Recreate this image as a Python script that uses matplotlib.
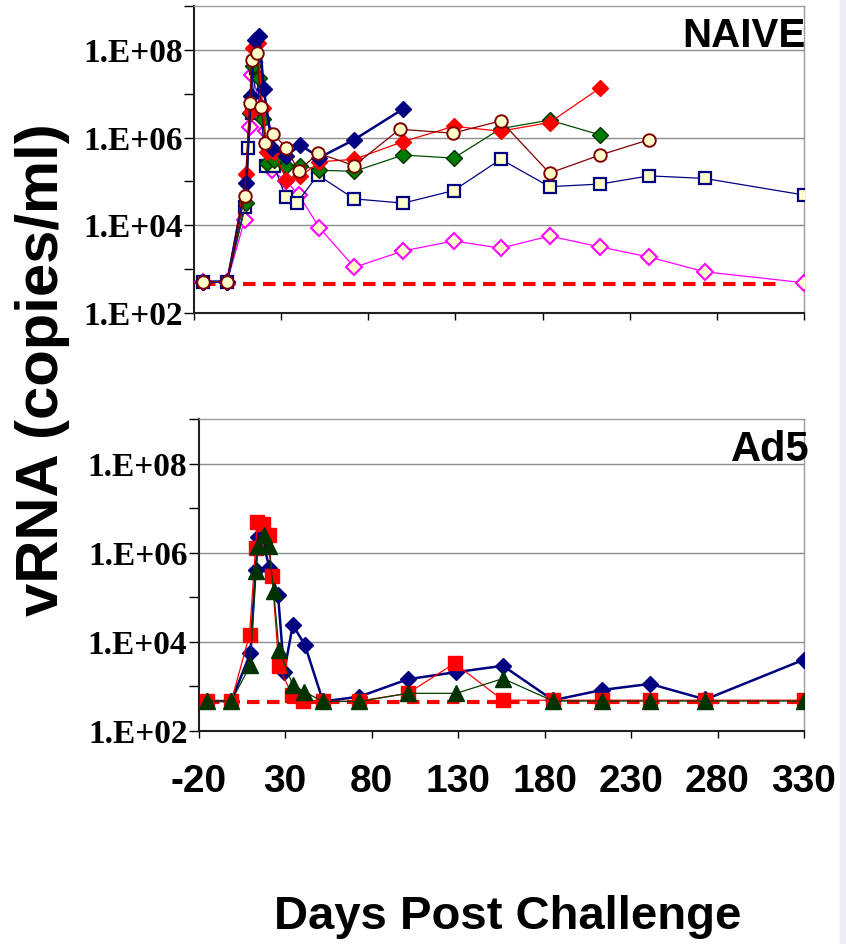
"""vRNA after challenge: naive vs Ad5 panels, log-scale viral loads."""
import math
import matplotlib
matplotlib.use("Agg")
import matplotlib.pyplot as plt
from matplotlib import font_manager as fm
from matplotlib.patches import Rectangle
from matplotlib.ticker import FixedLocator, FuncFormatter

# ---- data (days post challenge, copies/ml) ----
DL_VAL = 460
DL_TOP_DAYS = [-15, 317]
DL_BOT_DAYS = [-15, 330]

# NAIVE panel
NAV_T_DAYS = [-15, -1, 10, 12.5, 15, 17.5, 20, 25, 33, 41, 52, 72, 100]
NAV_T_VALS = [520, 520, 9e4, 9e6, 1.7e8, 2.1e8, 1.3e7, 5.8e5, 3.8e5, 6.8e5, 3.5e5, 9e5, 4.5e6]
RED_T_DAYS = [-15, -1, 10, 12.5, 14, 16.5, 19.5, 22, 26, 33, 41, 52, 72, 100, 129, 156, 184, 213]
RED_T_VALS = [520, 520, 1.5e5, 3.9e6, 1.1e8, 1.4e8, 4.7e6, 4.8e5, 4.8e5, 1.07e5, 1.3e5,
              2.8e5, 3.2e5, 8.1e5, 1.8e6, 1.4e6, 2.2e6, 1.35e7]
GRN_T_DAYS = [-15, -1, 10, 12, 14, 17.5, 19.5, 22, 26, 33, 41, 52, 72, 100, 129, 156, 184, 213]
GRN_T_VALS = [520, 520, 3.3e4, 3.6e6, 4.2e7, 2.3e7, 2.6e6, 2.6e5, 3.1e5, 2.2e5, 2.3e5,
              1.8e5, 1.7e5, 4e5, 3.4e5, 1.6e6, 2.5e6, 1.15e6]
CIR_T_DAYS = [-15, -1, 9, 12, 13, 16, 18.5, 21, 25.5, 33, 40, 51, 72, 98, 128.5, 156, 184, 213, 241]
CIR_T_VALS = [520, 520, 4.7e4, 6e6, 5.9e7, 8.5e7, 5e6, 7.7e5, 1.2e6, 5.8e5, 1.7e5, 4.4e5,
              2.3e5, 1.55e6, 1.26e6, 2.4e6, 1.55e5, 4e5, 8.9e5]
SQR_T_DAYS = [-15, -1, 9, 11, 13, 15.5, 21.5, 26, 32.5, 39, 51, 72, 100, 129, 156, 184, 213,
              241, 273, 330]
SQR_T_VALS = [520, 520, 2.6e4, 5.8e5, 3.6e6, 3.8e7, 2.2e5, 2.3e5, 4.4e4, 3.2e4, 1.4e5, 4e4,
              3.2e4, 6.2e4, 3.2e5, 7.6e4, 8.7e4, 1.34e5, 1.17e5, 4.9e4]
MAG_T_DAYS = [-15, -1, 9, 12, 13.5, 21.5, 24.5, 33, 40, 52, 72, 100, 129, 156, 184, 213, 241,
              273, 330]
MAG_T_VALS = [520, 520, 1.3e4, 1.7e6, 2.7e7, 1.4e6, 1.8e5, 1e5, 5e4, 8.8e3, 1.1e3, 2.6e3,
              4.4e3, 3e3, 5.7e3, 3.2e3, 1.9e3, 870, 490]

# Ad5 panel
NAV_B_DAYS = [-15, -1, 10, 13, 14.5, 17.5, 21, 26, 29.5, 34.5, 41.5, 52, 73, 101, 129, 156,
              185, 213, 241, 273, 330]
NAV_B_VALS = [470, 470, 5.6e3, 4e5, 2.2e6, 1.6e6, 4.6e5, 1.1e5, 2.1e3, 2.4e4, 8.5e3, 460,
              590, 1.45e3, 2.1e3, 2.9e3, 490, 830, 1.14e3, 510, 4e3]
RED_B_DAYS = [-15, -1, 9.5, 13, 14, 17.5, 20.5, 22.5, 26.5, 34, 40.5, 52, 73, 101, 128, 156,
              185, 213, 241, 273, 330]
RED_B_VALS = [470, 470, 1.45e4, 1.3e6, 4.8e6, 4.5e6, 2.5e6, 3e5, 2.8e3, 650, 460, 460, 470,
              700, 3.3e3, 490, 490, 490, 490, 490, 490]
GRN_B_DAYS = [-15, -1, 10, 13, 14.5, 18, 20.5, 23.5, 26.5, 34.5, 41, 52, 73, 101, 129, 156,
              185, 213, 241, 273, 330]
GRN_B_VALS = [470, 470, 3e3, 3.8e5, 1.4e6, 2.5e6, 1.4e6, 1.35e5, 6.6e3, 1.08e3, 760, 460,
              460, 700, 700, 1.5e3, 470, 470, 470, 470, 470]

X_TICKS = [-20, 30, 80, 130, 180, 230, 280, 330]
Y_DECADES = [1e2, 1e3, 1e4, 1e5, 1e6, 1e7, 1e8, 1e9]
GRID_Y = [1e4, 1e6, 1e8]

names = {f.name for f in fm.fontManager.ttflist}
NARROW = "Liberation Sans Narrow" if "Liberation Sans Narrow" in names else None
SANS = "Liberation Sans"
SERIF = "Liberation Serif"

W, H = 846, 944
fig = plt.figure(figsize=(W / 100, H / 100), dpi=100)
fig.patches.append(Rectangle((840 / W, 0), 6 / W, 1, transform=fig.transFigure,
                             color="#e9eef6", zorder=0))

ax_t = fig.add_axes([194 / W, 1 - 313 / H, (804 - 194) / W, (313 - 6) / H])
ax_b = fig.add_axes([198.5 / W, 1 - 731 / H, (804 - 198.5) / W, (731 - 419) / H])

YELLOW = "#ffffcc"


def ylab(v, pos):
    e = int(round(math.log10(v)))
    return f"1.E+{e:02d}" if e % 2 == 0 else ""


for ax in (ax_t, ax_b):
    ax.set_yscale("log")
    ax.set_ylim(1e2, 1e9)
    ax.set_xlim(-20, 330)
    ax.yaxis.set_major_locator(FixedLocator(Y_DECADES))
    ax.yaxis.set_minor_locator(FixedLocator([]))
    ax.yaxis.set_major_formatter(FuncFormatter(ylab))
    ax.set_xticks(X_TICKS)
    for g in GRID_Y:
        ax.axhline(g, color="#8c8c8c", lw=1.0, zorder=1)
    for s in ("top", "right"):
        ax.spines[s].set_color("#9a9a9a")
        ax.spines[s].set_linewidth(1.0)
    for s in ("left", "bottom"):
        ax.spines[s].set_color("#202020")
        ax.spines[s].set_linewidth(1.5)
    ax.tick_params(axis="y", direction="out", length=7, width=1, pad=1)
    ax.tick_params(axis="x", direction="out", length=5, width=1, pad=19)
    for lab in ax.get_yticklabels():
        lab.set_fontfamily(SERIF)
        lab.set_fontweight("bold")
        lab.set_fontsize(24)

ax_t.set_xticklabels([])
if NARROW:
    ax_b.set_xticklabels([str(t) for t in X_TICKS], fontfamily=NARROW, fontweight="bold",
                         fontsize=33)
else:
    ax_b.set_xticklabels([str(t) for t in X_TICKS], fontfamily=SANS, fontweight="bold",
                         fontsize=28)

# detection limit
ax_t.plot(DL_TOP_DAYS, [DL_VAL, DL_VAL], color="#ff0000", lw=3, dashes=(3, 1.8), zorder=2)
ax_b.plot(DL_BOT_DAYS, [DL_VAL - 15, DL_VAL - 15], color="#ff0000", lw=3, dashes=(3, 1.8),
          zorder=2)

# NAIVE series
ax_t.plot(MAG_T_DAYS, MAG_T_VALS, color="#ff00ff", lw=0.9, marker="D", ms=8.6,
          mfc=YELLOW, mec="#ff00ff", mew=1.5, zorder=3)
ax_t.plot(SQR_T_DAYS, SQR_T_VALS, color="#000080", lw=0.9, marker="s", ms=9,
          mfc=YELLOW, mec="#000080", mew=1.6, zorder=4)
ax_t.plot(GRN_T_DAYS, GRN_T_VALS, color="#004d00", lw=0.9, marker="D", ms=8.6,
          mfc="#007a00", mec="#003300", mew=1.0, zorder=5)
ax_t.plot(RED_T_DAYS, RED_T_VALS, color="#ff0000", lw=0.9, marker="D", ms=8.6,
          mfc="#ff0000", mec="#ff0000", mew=1.0, zorder=6)
ax_t.plot(NAV_T_DAYS, NAV_T_VALS, color="#000080", lw=1.8, marker="D", ms=8.6,
          mfc="#000080", mec="#000080", mew=1.0, zorder=7)
ax_t.plot(CIR_T_DAYS, CIR_T_VALS, color="#800000", lw=0.9, marker="o", ms=9,
          mfc=YELLOW, mec="#800000", mew=1.4, zorder=8)

# Ad5 series
ax_b.plot(NAV_B_DAYS, NAV_B_VALS, color="#000080", lw=1.8, marker="D", ms=8.6,
          mfc="#000080", mec="#000080", mew=1.0, zorder=5)
ax_b.plot(RED_B_DAYS, RED_B_VALS, color="#ff0000", lw=0.9, marker="s", ms=9.5,
          mfc="#ff0000", mec="#ff0000", mew=1.0, zorder=6)
ax_b.plot(GRN_B_DAYS, GRN_B_VALS, color="#004000", lw=0.9, marker="^", ms=11,
          mfc="#003300", mec="#003300", mew=1.0, zorder=7)

# panel names
ax_t.text(1.003, 0.965, "NAIVE", transform=ax_t.transAxes, ha="right", va="top",
          fontfamily=SANS, fontweight="bold", fontsize=29, zorder=10)
ax_b.text(1.01, 0.965, "Ad5", transform=ax_b.transAxes, ha="right", va="top",
          fontfamily=SANS, fontweight="bold", fontsize=30, zorder=10)

fig.text(42 / W, 1 - 370 / H, "vRNA (copies/ml)", rotation=90, ha="center", va="center",
         fontfamily=SANS, fontweight="bold", fontsize=43)
fig.text(508 / W, 1 - 917 / H, "Days Post Challenge", ha="center", va="center",
         fontfamily=SANS, fontweight="bold", fontsize=34)

fig.savefig("out.png", dpi=100)
